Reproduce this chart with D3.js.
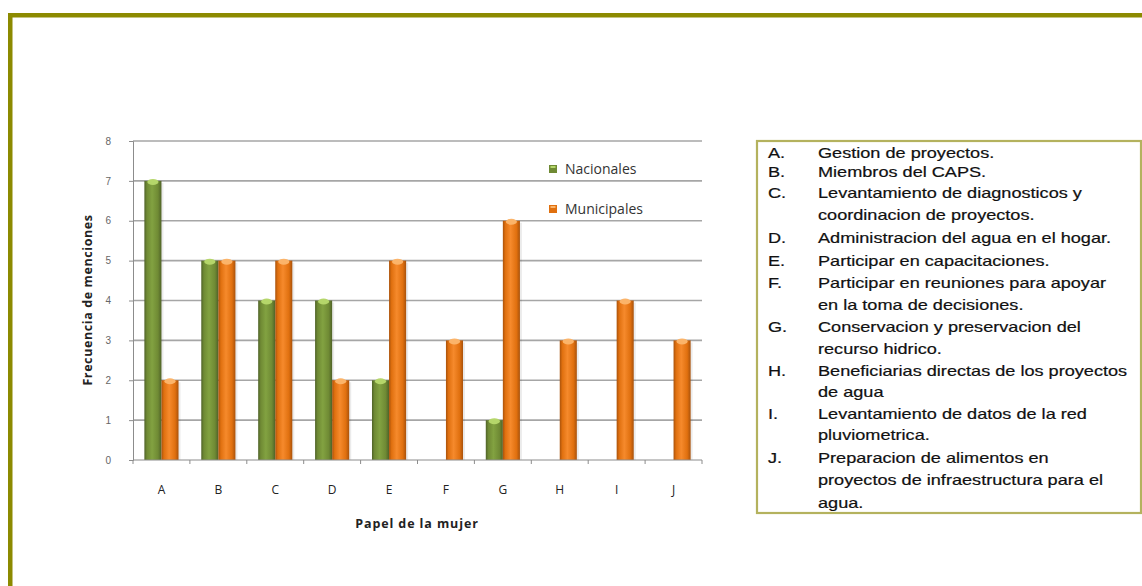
<!DOCTYPE html>
<html>
<head>
<meta charset="utf-8">
<script src="https://cdn.jsdelivr.net/npm/d3@7"></script>
<style>
  body { margin: 0; background: #fff; }
  svg { display: block; }
</style>
</head>
<body>
<svg id="chart" width="1142" height="586"></svg>
<script>
'use strict';

// data
var categories = ["A", "B", "C", "D", "E", "F", "G", "H", "I", "J"];
var nacionales = [7, 5, 4, 4, 2, 0, 1, 0, 0, 0];
var municipales = [2, 5, 5, 2, 5, 3, 6, 3, 4, 3];
var seriesNames = ["Nacionales", "Municipales"];
var yTicks = [0, 1, 2, 3, 4, 5, 6, 7, 8];

var notesLetters = ["A.", "B.", "C.", "", "D.", "E.", "F.", "", "G.", "", "H.", "", "I.", "", "J.", "", ""];
var notesLines = [
    "Gestion de proyectos.",
    "Miembros del CAPS.",
    "Levantamiento de diagnosticos y",
    "coordinacion de proyectos.",
    "Administracion del agua en el hogar.",
    "Participar en capacitaciones.",
    "Participar en reuniones para apoyar",
    "en la toma de decisiones.",
    "Conservacion y preservacion del",
    "recurso hidrico.",
    "Beneficiarias directas de los proyectos",
    "de agua",
    "Levantamiento de datos de la red",
    "pluviometrica.",
    "Preparacion de alimentos en",
    "proyectos de infraestructura para el",
    "agua."
];
var notesTops = [153, 172, 193, 215, 238, 261, 283, 305, 327, 349, 371, 392, 414, 435, 458, 480, 503];

var svg = d3.select("#chart");

// outer frame (only left and top edges are visible)
svg.append("rect").attr("x", 8).attr("y", 13).attr("width", 4.5).attr("height", 586 - 13).attr("fill", "#8c8a00");
svg.append("rect").attr("x", 8).attr("y", 13).attr("width", 1142 - 8).attr("height", 4.5).attr("fill", "#8c8a00");

var defs = svg.append("defs");

function barGradient(id, edge, mid, light) {
    var g = defs.append("linearGradient").attr("id", id)
        .attr("x1", "0%").attr("x2", "100%").attr("y1", "0%").attr("y2", "0%");
    g.append("stop").attr("offset", "0%").attr("stop-color", edge);
    g.append("stop").attr("offset", "15%").attr("stop-color", mid);
    g.append("stop").attr("offset", "45%").attr("stop-color", light);
    g.append("stop").attr("offset", "80%").attr("stop-color", mid);
    g.append("stop").attr("offset", "100%").attr("stop-color", edge);
}
barGradient("grad-green", "#4f6228", "#6f8a34", "#82a241");
barGradient("grad-orange", "#a9520b", "#e0700f", "#f68a2c");

var colors = {
    Nacionales: { fill: "url(#grad-green)", cap: "#b5d66a", swatch: "#6f8a34" },
    Municipales: { fill: "url(#grad-orange)", cap: "#fbb46a", swatch: "#e0700f" }
};

var plot = { left: 133, right: 702, top: 141, bottom: 460 };

var x = d3.scaleBand()
    .domain(categories)
    .range([plot.left, plot.right])
    .paddingInner(0.4)
    .paddingOuter(0.2);

var xSub = d3.scaleBand()
    .domain(seriesNames)
    .range([0, x.bandwidth()]);

var y = d3.scaleLinear()
    .domain([0, 8])
    .range([plot.bottom, plot.top]);

// gridlines
svg.append("g").selectAll("line")
    .data(yTicks.filter(function (d) { return d > 0; }))
    .enter().append("line")
    .attr("x1", plot.left).attr("x2", plot.right)
    .attr("y1", function (d) { return y(d); })
    .attr("y2", function (d) { return y(d); })
    .attr("stroke", "#a6a6a6")
    .attr("stroke-width", 1.6);

// y axis
var yAxis = svg.append("g")
    .attr("transform", "translate(" + plot.left + ",0)")
    .call(d3.axisLeft(y).tickValues(yTicks).tickSize(4).tickPadding(18).tickFormat(d3.format("d")));
yAxis.select(".domain").attr("stroke", "#8c8c8c");
yAxis.selectAll(".tick line").attr("stroke", "#8c8c8c");
yAxis.selectAll("text")
    .attr("fill", "#666")
    .style("font-family", "'Liberation Sans', Arial, sans-serif")
    .style("font-size", "10px");

// bars
var series = [
    { name: "Nacionales", values: nacionales },
    { name: "Municipales", values: municipales }
];

var bars = [];
series.forEach(function (s) {
    s.values.forEach(function (v, i) {
        if (v > 0) bars.push({ series: s.name, cat: categories[i], value: v });
    });
});

var barG = svg.append("g");

// soft shadow to the right of each bar
barG.selectAll("rect.shadow")
    .data(bars)
    .enter().append("rect")
    .attr("class", "shadow")
    .attr("x", function (d) { return x(d.cat) + xSub(d.series) + 2; })
    .attr("y", function (d) { return y(d.value) + 2; })
    .attr("width", xSub.bandwidth())
    .attr("height", function (d) { return y(0) - y(d.value) - 2; })
    .attr("fill", "#000")
    .attr("opacity", 0.08);

barG.selectAll("rect.bar")
    .data(bars)
    .enter().append("rect")
    .attr("class", "bar")
    .attr("x", function (d) { return x(d.cat) + xSub(d.series); })
    .attr("y", function (d) { return y(d.value); })
    .attr("width", xSub.bandwidth())
    .attr("height", function (d) { return y(0) - y(d.value); })
    .attr("fill", function (d) { return colors[d.series].fill; });

// light cap at the top of each bar
barG.selectAll("ellipse.cap")
    .data(bars)
    .enter().append("ellipse")
    .attr("class", "cap")
    .attr("cx", function (d) { return x(d.cat) + xSub(d.series) + xSub.bandwidth() / 2; })
    .attr("cy", function (d) { return y(d.value) + 1; })
    .attr("rx", function () { return xSub.bandwidth() / 2 - 3; })
    .attr("ry", 3)
    .attr("fill", function (d) { return colors[d.series].cap; });

// x axis
var xAxisG = svg.append("g").attr("transform", "translate(0," + plot.bottom + ")");
xAxisG.append("line")
    .attr("x1", plot.left).attr("x2", plot.right)
    .attr("stroke", "#8c8c8c");
xAxisG.selectAll("line.tick")
    .data(d3.range(categories.length + 1))
    .enter().append("line")
    .attr("class", "tick")
    .attr("x1", function (i) { return plot.left + i * (plot.right - plot.left) / categories.length; })
    .attr("x2", function (i) { return plot.left + i * (plot.right - plot.left) / categories.length; })
    .attr("y1", 0).attr("y2", 4)
    .attr("stroke", "#8c8c8c");
xAxisG.selectAll("text")
    .data(categories)
    .enter().append("text")
    .attr("x", function (d) { return x(d) + x.bandwidth() / 2; })
    .attr("y", 34)
    .attr("text-anchor", "middle")
    .attr("fill", "#222")
    .style("font-family", "'Open Sans', sans-serif")
    .style("font-size", "12px")
    .text(function (d) { return d; });

// axis titles
svg.append("text")
    .attr("x", 417).attr("y", 528)
    .attr("text-anchor", "middle")
    .attr("fill", "#222")
    .style("font-family", "'Open Sans', sans-serif")
    .style("font-size", "12.5px")
    .style("font-weight", "bold")
    .style("letter-spacing", "0.9px")
    .text("Papel de la mujer");

svg.append("text")
    .attr("transform", "translate(92,300) rotate(-90)")
    .attr("text-anchor", "middle")
    .attr("fill", "#222")
    .style("font-family", "'Open Sans', sans-serif")
    .style("font-size", "12.5px")
    .style("font-weight", "bold")
    .style("letter-spacing", "0.6px")
    .text("Frecuencia de menciones");

// legend (sits inside the plot area)
var legend = svg.append("g").selectAll("g")
    .data(seriesNames)
    .enter().append("g")
    .attr("transform", function (d, i) { return "translate(549," + (165 + i * 40) + ")"; });
legend.append("rect")
    .attr("width", 8).attr("height", 8)
    .attr("fill", function (d) { return colors[d].swatch; });
legend.append("rect")
    .attr("x", 1.5).attr("y", 1).attr("width", 5).attr("height", 2)
    .attr("fill", function (d) { return colors[d].cap; });
legend.append("text")
    .attr("x", 16).attr("y", 9)
    .attr("fill", "#333")
    .style("font-family", "'Open Sans', sans-serif")
    .style("font-size", "14px")
    .text(function (d) { return d; });

// notes box
var box = svg.append("g");
box.append("rect")
    .attr("x", 757).attr("y", 141)
    .attr("width", 1141 - 757).attr("height", 513 - 141)
    .attr("fill", "#fff")
    .attr("stroke", "#b4b25e")
    .attr("stroke-width", 2.2);

// the text in the box is drawn wide, so stretch it horizontally
function wideText(sel, x0) {
    sel.attr("transform", function (d, i) {
            return "translate(" + x0 + "," + (notesTops[i] + 5) + ") scale(1.25,1)";
        })
        .attr("fill", "#111")
        .attr("stroke", "#111")
        .attr("stroke-width", 0.2)
        .style("font-family", "'Liberation Sans', Arial, sans-serif")
        .style("font-size", "14.5px")
        .text(function (d) { return d; });
}

wideText(box.selectAll("text.letter")
    .data(notesLetters)
    .enter().append("text")
    .attr("class", "letter"), 768);

wideText(box.selectAll("text.line")
    .data(notesLines)
    .enter().append("text")
    .attr("class", "line"), 818);
</script>
</body>
</html>
